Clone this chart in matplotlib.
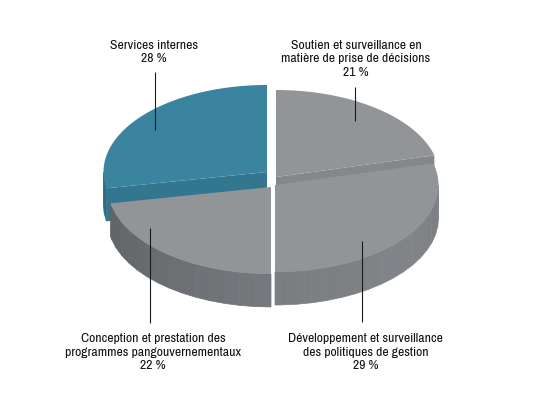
import numpy as np
import matplotlib
matplotlib.use('Agg')
import matplotlib.pyplot as plt
from matplotlib.patches import Polygon

labels = ['Soutien et surveillance en\nmatière de prise de décisions\n21 %',
          'Développement et surveillance\ndes politiques de gestion\n29 %',
          'Conception et prestation des\nprogrammes pangouvernementaux\n22 %',
          'Services internes\n28 %']
shares = [21, 29, 22, 28]

# layout, in pixels of the 545x395 picture
centers = [(276, 177), (275, 185), (271, 187), (267, 172)]
rx, ry, depth = 163.5, 87, 33
top_colors = ['#929598', '#929598', '#929598', '#3a84a0']
face_colors = ['#85888b', '#85888b', '#85888b', '#32768f']
# which end of the slice shows its cut face (None = no face)
face_edge = [1, None, None, 0]
# wall shade along the rim: (angle, colour level) for each slice
wall_stops = [([0, 360], [0x78, 0x78]),
              ([76, 100, 125, 180], [0x74, 0x7c, 0x82, 0x7a]),
              ([180, 260], [0x76, 0x60]),
              None]
label_pos = [(356, 59), (365.5, 352), (153, 352), (153.5, 52)]
leaders = [(355, 87, 121), (362, 241, 322), (150, 228, 323), (155, 72, 130)]
draw_order = [3, 0, 2, 1]

plt.rcParams['font.family'] = ['Archivo Narrow', 'Roboto Condensed', 'Liberation Sans']
fig = plt.figure(figsize=(5.45, 3.95), dpi=100)
ax = fig.add_axes([0, 0, 1, 1])
ax.set_xlim(0, 545)
ax.set_ylim(395, 0)
ax.axis('off')

edges = np.cumsum([0] + shares) / sum(shares) * 360


def rim(cx, cy, angle):
    a = np.radians(angle)
    return cx + rx * np.sin(a), cy - ry * np.cos(a)


for i in draw_order:
    cx, cy = centers[i]
    start, end = edges[i], edges[i + 1]

    # outer wall in flat strips, only the part that faces the viewer
    lo, hi = max(start, 90), min(end, 270)
    if lo < hi:
        steps = np.arange(lo, hi + 5.5, 5.5).clip(max=hi)
        for a0, a1 in zip(steps[:-1], steps[1:]):
            x0, y0 = rim(cx, cy, a0)
            x1, y1 = rim(cx, cy, a1)
            if wall_stops[i] is None:
                col = '#2a6a85'
            else:
                level = np.interp((a0 + a1) / 2, *wall_stops[i]) / 255
                col = (level, level + 0.012, level + 0.025)
            ax.add_patch(Polygon([(x0, y0), (x1, y1), (x1, y1 + depth), (x0, y0 + depth)],
                                 closed=True, fc=col, ec=col, lw=0.5))

    # cut face of the slice
    if face_edge[i] is not None:
        x1, y1 = rim(cx, cy, edges[i + face_edge[i]])
        ax.add_patch(Polygon([(cx, cy), (x1, y1), (x1, y1 + depth), (cx, cy + depth)],
                             closed=True, fc=face_colors[i], ec='none'))

    # top
    th = np.linspace(start, end, 120)
    xs, ys = rim(cx, cy, th)
    pts = [(cx, cy)] + list(zip(xs, ys))
    ax.add_patch(Polygon(pts, closed=True, fc=top_colors[i], ec='none'))

for lab, (tx, ty), (lx, y0, y1) in zip(labels, label_pos, leaders):
    ax.text(tx, ty, lab, ha='center', va='center', fontsize=9.85, color='#111111', linespacing=1.28)
    ax.plot([lx, lx], [y0, y1], color='#1a1a1a', lw=0.8, solid_capstyle='butt', zorder=5)

fig.savefig('out.png', dpi=100, facecolor='white')
